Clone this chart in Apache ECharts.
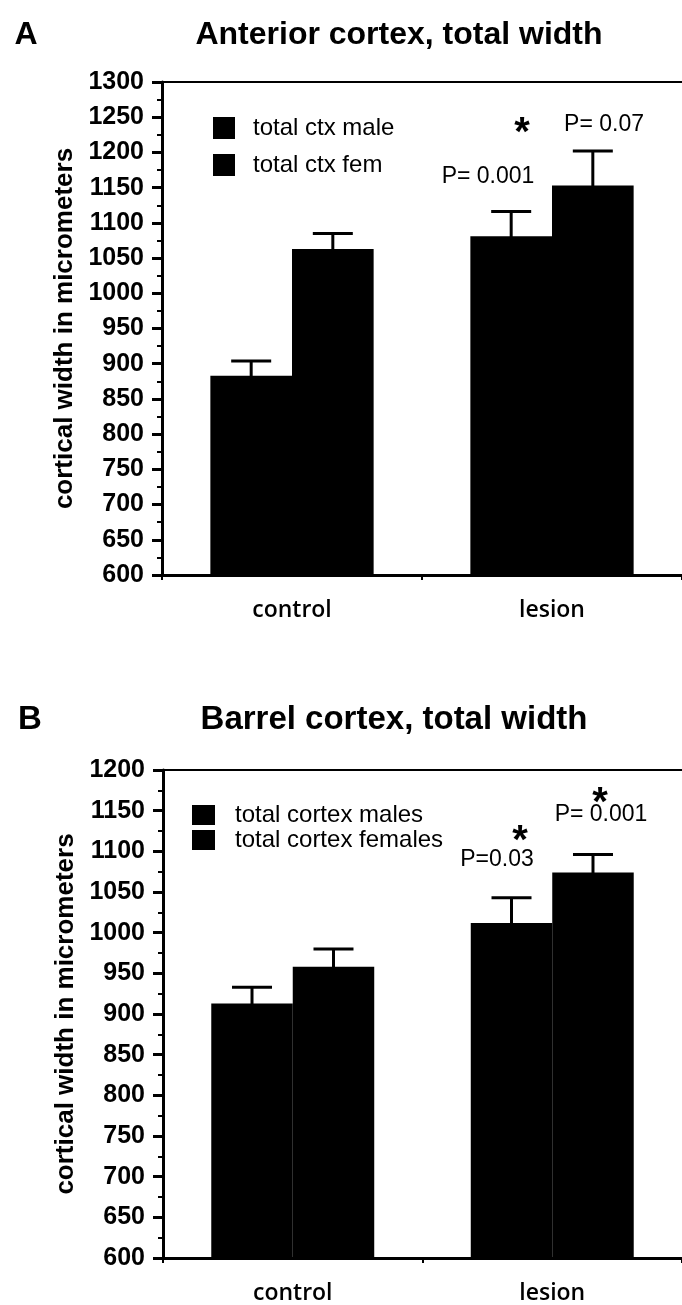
<!DOCTYPE html>
<html><head><meta charset="utf-8">
<script src="https://cdn.jsdelivr.net/npm/echarts@6/dist/echarts.min.js"></script>
<style>html,body{margin:0;padding:0;background:#fff}#c{width:682px;height:1305px}</style>
</head><body><div id="c"></div>
<script>
// ---- data ----
const categories = ['control', 'lesion'];
const seriesNamesA = ['total ctx male', 'total ctx fem'];
const seriesNamesB = ['total cortex males', 'total cortex females'];
const aMaleMean = [883, 1081];
const aMaleErr = [21, 35];
const aFemMean = [1063, 1153];
const aFemErr = [22, 49];
const bMaleMean = [913, 1012];
const bMaleErr = [20, 31];
const bFemMean = [958, 1074];
const bFemErr = [22, 22];
const yRangeA = [600, 1300];
const yRangeB = [600, 1200];
const yStep = 50;
const titles = ['Anterior cortex, total width', 'Barrel cortex, total width'];
const panelLetters = ['A', 'B'];
const yName = 'cortical width in micrometers';

// ---- styles ----
const BAR_FRAC = 0.314;
const SANS = 'Liberation Sans, Arial, sans-serif';
const chart = echarts.init(document.getElementById('c'), null, {renderer: 'canvas'});

function errSeries(name, means, errs, side, gridIdx) {
  return {
    type: 'custom', name: name + ' err', xAxisIndex: gridIdx * 2, yAxisIndex: gridIdx,
    data: means.map((m, i) => [i, m, m + errs[i]]),
    encode: {x: 0, y: [1, 2]}, z: 10, silent: true,
    renderItem: (params, api) => {
      const c = api.value(0), m = api.value(1), t = api.value(2);
      const p0 = api.coord([c, m]), p1 = api.coord([c, t]);
      const bw = api.size([1, 0])[0] * BAR_FRAC;
      const x = p0[0] + side * bw / 2;
      const half = 20;
      return {type: 'group', children: [
        {type: 'line', shape: {x1: x, y1: p0[1] + 2, x2: x, y2: p1[1]}, style: {stroke: '#000', lineWidth: 3}},
        {type: 'line', shape: {x1: x - half, y1: p1[1], x2: x + half, y2: p1[1]}, style: {stroke: '#000', lineWidth: 3}}
      ]};
    }
  };
}
function barSeries(name, means, gridIdx) {
  return {type: 'bar', name: name, xAxisIndex: gridIdx * 2, yAxisIndex: gridIdx, data: means,
    barWidth: (BAR_FRAC * 100) + '%', barGap: '0%', itemStyle: {color: '#000'}, silent: true};
}
function xAxes(gridIndex) {
  return [{
    type: 'category', gridIndex, data: categories, position: 'bottom',
    axisLine: {lineStyle: {color: '#000', width: 3}},
    axisTick: {show: true, length: 5, lineStyle: {color: '#000', width: 2}},
    axisLabel: {color: '#000', fontSize: 23, fontFamily: 'Open Sans, DejaVu Sans, sans-serif', fontWeight: 600, margin: 24}
  }, {
    type: 'category', gridIndex, data: categories, position: 'top',
    axisLine: {lineStyle: {color: '#000', width: 2}}, axisTick: {show: false}, axisLabel: {show: false}
  }];
}
function yAxis(gridIndex, range) {
  return {
    type: 'value', gridIndex, min: range[0], max: range[1], interval: yStep,
    axisLine: {show: true, lineStyle: {color: '#000', width: 3}},
    axisTick: {show: true, length: 10, lineStyle: {color: '#000', width: 3}},
    minorTick: {show: true, splitNumber: 2, length: 5, lineStyle: {color: '#000', width: 2}},
    splitLine: {show: false},
    axisLabel: {color: '#000', fontSize: 25, fontWeight: 'bold', fontFamily: SANS, margin: 18,
      formatter: v => String(v)},
    name: yName, nameLocation: 'middle', nameRotate: 90, nameGap: 76,
    nameTextStyle: {color: '#000', fontSize: 26, fontWeight: 'bold', fontFamily: SANS}
  };
}
function legend(names, left, top, itemW, itemH, gap, lh, pad) {
  return {data: names, orient: 'vertical', left, top, itemWidth: itemW, itemHeight: itemH, itemGap: gap,
    icon: 'rect', selectedMode: false, padding: 0,
    textStyle: {color: '#000', fontSize: 24, fontFamily: SANS, lineHeight: lh, padding: [0, 0, 0, pad]}};
}
function txt(text, x, y, size, bold, align) {
  return {type: 'text', x, y, style: {text, fontSize: size, fontWeight: bold ? 'bold' : 'normal',
    fontFamily: SANS, fill: '#000', textAlign: align || 'center', textVerticalAlign: 'middle'}};
}

const option = {
  animation: false,
  backgroundColor: '#fff',
  grid: [
    {left: 162, right: 0, top: 82, height: 493},
    {left: 163, right: 0, top: 770, height: 490}
  ],
  xAxis: [...xAxes(0), ...xAxes(1)].map((a, i) => Object.assign(a, {gridIndex: i < 2 ? 0 : 1})),
  yAxis: [yAxis(0, yRangeA), yAxis(1, yRangeB)],
  legend: [
    legend(seriesNamesA, 213, 116, 22, 22, 13, 22, 13),
    legend(seriesNamesB, 192, 803, 23, 20, 1, 20, 15)
  ],
  series: [
    barSeries(seriesNamesA[0], aMaleMean, 0),
    barSeries(seriesNamesA[1], aFemMean, 0),
    errSeries(seriesNamesA[0], aMaleMean, aMaleErr, -1, 0),
    errSeries(seriesNamesA[1], aFemMean, aFemErr, 1, 0),
    barSeries(seriesNamesB[0], bMaleMean, 1),
    barSeries(seriesNamesB[1], bFemMean, 1),
    errSeries(seriesNamesB[0], bMaleMean, bMaleErr, -1, 1),
    errSeries(seriesNamesB[1], bFemMean, bFemErr, 1, 1)
  ],
  graphic: [
    txt(panelLetters[0], 26, 35, 32, true),
    txt(titles[0], 399, 35, 32, true),
    txt(panelLetters[1], 30, 720, 33, true),
    txt(titles[1], 394, 720, 33, true),
    txt('*', 522, 134, 40, true),
    txt('P= 0.07', 604, 125, 23, false),
    txt('P= 0.001', 488, 177, 23, false),
    txt('*', 520, 842, 40, true),
    txt('P=0.03', 497, 860, 23, false),
    txt('*', 600, 804, 40, true),
    txt('P= 0.001', 601, 815, 23, false)
  ]
};
chart.setOption(option);
</script>
</body></html>
